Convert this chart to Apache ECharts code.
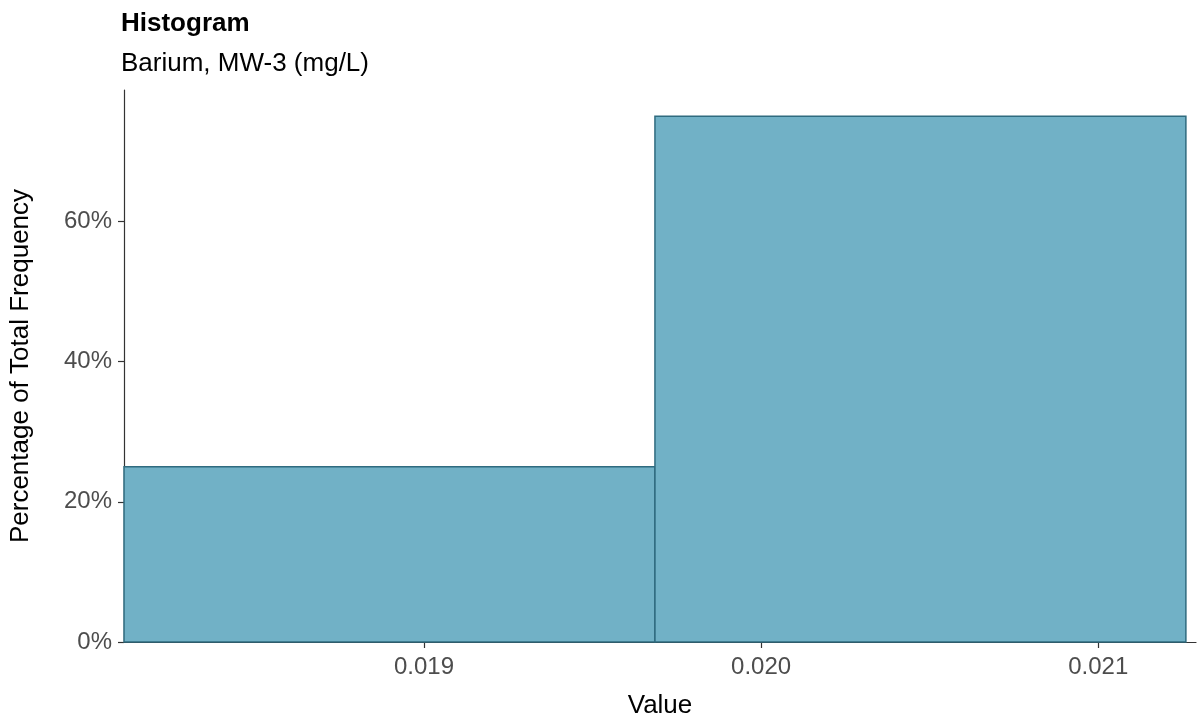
<!DOCTYPE html>
<html>
<head>
<meta charset="utf-8">
<script src="https://cdn.jsdelivr.net/npm/echarts@6/dist/echarts.min.js"></script>
<style>
  html, body { margin: 0; padding: 0; background: #fff; }
  #chart { width: 1197px; height: 724px; }
</style>
</head>
<body>
<div id="chart"></div>
<script>
// Histogram bins (Barium, MW-3, mg/L)
const binStarts = [0.01811, 0.019685];
const binEnds = [0.019685, 0.02126];
const percents = [25, 75];
const xTickValues = [0.019, 0.020, 0.021];
const titleText = 'Histogram';
const subtitleText = 'Barium, MW-3 (mg/L)';
const xName = 'Value';
const yName = 'Percentage of Total Frequency';

const FONT = '"Liberation Sans", Arial, Helvetica, sans-serif';
const chart = echarts.init(document.getElementById('chart'), null, { renderer: 'canvas' });

const data = binStarts.map((s, i) => [s, binEnds[i], percents[i]]);

chart.setOption({
  animation: false,
  backgroundColor: '#ffffff',
  title: [
    { text: titleText, left: 116, top: 6,
      textStyle: { fontFamily: FONT, fontSize: 26, fontWeight: 'bold', color: '#000' } },
    { text: subtitleText, left: 116, top: 46,
      textStyle: { fontFamily: FONT, fontSize: 26, fontWeight: 'normal', color: '#000' } }
  ],
  grid: { left: 116, right: 1, top: 90, bottom: 76, containLabel: false },
  xAxis: {
    type: 'value',
    min: 0.01811,
    max: 0.02129,
    name: xName,
    nameLocation: 'middle',
    nameGap: 51,
    nameTextStyle: { fontFamily: FONT, fontSize: 26, color: '#000' },
    axisLine: { show: true, lineStyle: { color: '#333', width: 1.2 } },
    axisTick: { show: true, length: 6, customValues: xTickValues, lineStyle: { color: '#333', width: 1.2 } },
    axisLabel: {
      customValues: xTickValues,
      margin: 13,
      fontFamily: FONT, fontSize: 24, color: '#4d4d4d',
      formatter: v => v.toFixed(3)
    },
    splitLine: { show: false }
  },
  yAxis: {
    type: 'value',
    min: 0,
    max: 78.75,
    interval: 20,
    name: yName,
    nameLocation: 'middle',
    nameGap: 90,
    nameRotate: 90,
    nameTextStyle: { fontFamily: FONT, fontSize: 26, color: '#000' },
    axisLine: { show: true, lineStyle: { color: '#333', width: 1.2 } },
    axisTick: { show: true, length: 6, lineStyle: { color: '#333', width: 1.2 } },
    axisLabel: {
      margin: 12,
      fontFamily: FONT, fontSize: 24, color: '#4d4d4d',
      formatter: '{value}%',
      showMaxLabel: false
    },
    splitLine: { show: false }
  },
  series: [{
    type: 'custom',
    data: data,
    encode: { x: [0, 1], y: 2 },
    renderItem: function (params, api) {
      const p0 = api.coord([api.value(0), api.value(2)]);
      const p1 = api.coord([api.value(1), 0]);
      return {
        type: 'rect',
        shape: { x: p0[0], y: p0[1], width: p1[0] - p0[0], height: p1[1] - p0[1] },
        style: { fill: '#71B1C6', stroke: '#2F6B7F', lineWidth: 1.5 }
      };
    }
  }]
});
</script>
</body>
</html>
